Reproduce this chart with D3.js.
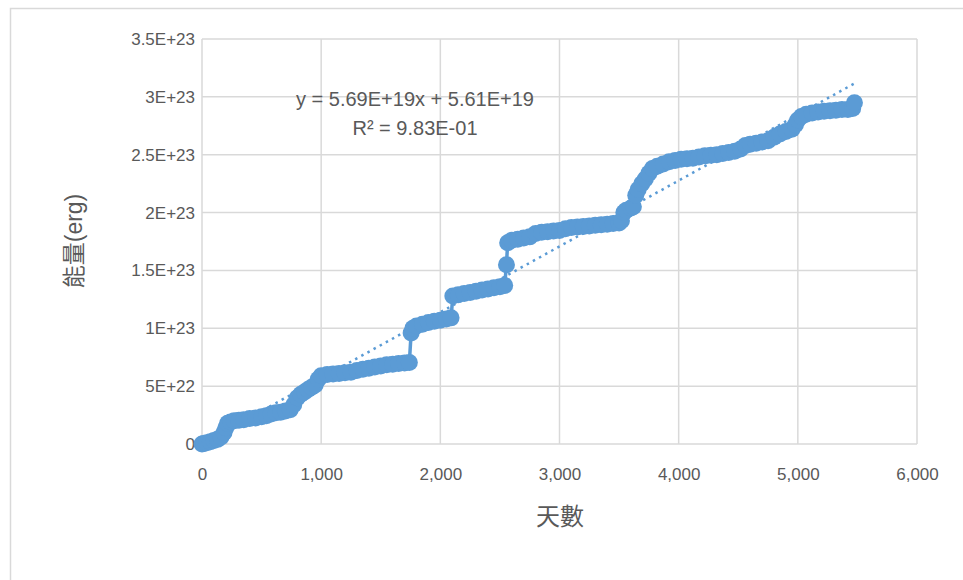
<!DOCTYPE html>
<html>
<head>
<meta charset="utf-8">
<script src="https://cdn.jsdelivr.net/npm/d3@7"></script>
<style>
  body { margin: 0; background: #fff; }
  text { font-family: "Liberation Sans", "Noto Sans CJK TC", sans-serif; fill: #595959; }
</style>
</head>
<body>
<div id="chart"></div>
<script>
// Days since start
var days = [0, 15, 40, 70, 100, 130, 160, 185, 200, 215, 240, 270, 310, 350, 400, 450, 500, 540, 580, 620,
  660, 700, 740, 770, 800, 830, 860, 890, 920, 950, 975, 1000, 1050, 1100, 1150, 1200, 1250, 1300, 1350, 1400,
  1450, 1500, 1550, 1600, 1650, 1700, 1740, 1755, 1770, 1800, 1850, 1900, 1950, 2000, 2050, 2090, 2105, 2150, 2200, 2250,
  2300, 2350, 2400, 2450, 2500, 2540, 2555, 2565, 2600, 2650, 2700, 2750, 2800, 2850, 2900, 2950, 3000, 3050, 3100, 3150,
  3200, 3250, 3300, 3350, 3400, 3450, 3500, 3520, 3540, 3560, 3600, 3620, 3640, 3660, 3690, 3720, 3750, 3780, 3820, 3870,
  3920, 3970, 4020, 4070, 4120, 4170, 4220, 4270, 4320, 4370, 4420, 4470, 4520, 4560, 4600, 4650, 4700, 4750, 4800, 4850,
  4900, 4950, 4980, 5000, 5030, 5070, 5120, 5170, 5220, 5270, 5320, 5370, 5420, 5460, 5475];

// Cumulative energy, in units of 1E+22 erg
var energyE22 = [0.0, 0.05, 0.1, 0.2, 0.3, 0.4, 0.6, 1.0, 1.4, 1.8, 1.9, 2.0, 2.05, 2.1, 2.2, 2.25, 2.35, 2.45, 2.6, 2.7,
  2.75, 2.85, 2.95, 3.4, 4.0, 4.3, 4.5, 4.7, 4.9, 5.1, 5.6, 5.9, 6.0, 6.05, 6.1, 6.15, 6.2, 6.35, 6.45, 6.55,
  6.65, 6.75, 6.85, 6.9, 6.95, 7.0, 7.05, 9.6, 10.0, 10.2, 10.35, 10.5, 10.6, 10.7, 10.8, 10.9, 12.8, 12.9, 13.0, 13.1,
  13.2, 13.3, 13.4, 13.5, 13.6, 13.7, 15.5, 17.4, 17.6, 17.7, 17.8, 17.9, 18.2, 18.3, 18.35, 18.4, 18.45, 18.6, 18.7, 18.75,
  18.8, 18.85, 18.9, 18.95, 19.0, 19.05, 19.1, 19.3, 20.0, 20.2, 20.4, 20.5, 21.5, 22.0, 22.5, 22.9, 23.4, 23.8, 24.0, 24.2,
  24.4, 24.5, 24.6, 24.65, 24.7, 24.8, 24.9, 24.95, 25.0, 25.1, 25.2, 25.3, 25.5, 25.8, 25.9, 26.0, 26.1, 26.2, 26.5, 26.8,
  27.0, 27.2, 27.6, 28.0, 28.3, 28.5, 28.6, 28.7, 28.75, 28.8, 28.85, 28.9, 28.9, 29.0, 29.5];

// Axis ticks
var xTicks = [0, 1000, 2000, 3000, 4000, 5000, 6000];
var yTicks = [0, 5, 10, 15, 20, 25, 30, 35];
var yTickLabels = ['0', '5E+22', '1E+23', '1.5E+23', '2E+23', '2.5E+23', '3E+23', '3.5E+23'];

// Linear trendline shown on the chart (erg per day, erg)
var trendSlope = 5.69e19;
var trendIntercept = 5.61e19;
var trendText = ['y = 5.69E+19x + 5.61E+19', 'R\u00b2 = 9.83E-01'];

var data = days.map(function(d, i) { return {day: d, e: energyE22[i]}; });

var W = 963, H = 580;
var plotLeft = 202, plotRight = 917, plotTop = 39, plotBottom = 444;
var blue = '#5b9bd5';

var svg = d3.select('#chart').append('svg')
  .attr('width', W)
  .attr('height', H);

// Chart area border
svg.append('rect')
  .attr('x', 10.5).attr('y', 8.5)
  .attr('width', 1000).attr('height', 700)
  .attr('fill', '#fff')
  .attr('stroke', '#d9d9d9')
  .attr('stroke-width', 1.5);

var x = d3.scaleLinear().domain([0, 6000]).range([plotLeft, plotRight]);
var y = d3.scaleLinear().domain([0, 35]).range([plotBottom, plotTop]);

// Gridlines
svg.append('g').selectAll('line')
  .data(xTicks).enter().append('line')
  .attr('x1', function(d) { return x(d); })
  .attr('x2', function(d) { return x(d); })
  .attr('y1', plotTop).attr('y2', plotBottom)
  .attr('stroke', '#d9d9d9').attr('stroke-width', 1.5);

svg.append('g').selectAll('line')
  .data(yTicks).enter().append('line')
  .attr('x1', plotLeft).attr('x2', plotRight)
  .attr('y1', function(d) { return y(d); })
  .attr('y2', function(d) { return y(d); })
  .attr('stroke', '#d9d9d9').attr('stroke-width', 1.5);

// Tick labels
var xAxis = d3.axisBottom(x).tickValues(xTicks).tickFormat(d3.format(',')).tickSize(0).tickPadding(24);
svg.append('g')
  .attr('transform', 'translate(0,' + plotBottom + ')')
  .call(xAxis)
  .call(function(g) { g.select('.domain').remove(); })
  .selectAll('text')
  .attr('font-size', 17)
  .attr('font-family', '"Liberation Sans", sans-serif')
  .attr('fill', '#595959');

var yAxis = d3.axisLeft(y).tickValues(yTicks)
  .tickFormat(function(d, i) { return yTickLabels[i]; })
  .tickSize(0).tickPadding(7);
svg.append('g')
  .attr('transform', 'translate(' + plotLeft + ',0)')
  .call(yAxis)
  .call(function(g) { g.select('.domain').remove(); })
  .selectAll('text')
  .attr('font-size', 17)
  .attr('font-family', '"Liberation Sans", sans-serif')
  .attr('fill', '#595959');

// Trendline
var xMax = d3.max(days);
svg.append('line')
  .attr('x1', x(0)).attr('y1', y(trendIntercept / 1e22))
  .attr('x2', x(xMax)).attr('y2', y((trendSlope * xMax + trendIntercept) / 1e22))
  .attr('stroke', blue)
  .attr('stroke-width', 2.5)
  .attr('stroke-dasharray', '2.5,4.5');

// Series line and markers
var line = d3.line()
  .x(function(d) { return x(d.day); })
  .y(function(d) { return y(d.e); });

svg.append('path')
  .datum(data)
  .attr('d', line)
  .attr('fill', 'none')
  .attr('stroke', blue)
  .attr('stroke-width', 3.5);

svg.append('g').selectAll('circle')
  .data(data).enter().append('circle')
  .attr('cx', function(d) { return x(d.day); })
  .attr('cy', function(d) { return y(d.e); })
  .attr('r', 8.5)
  .attr('fill', blue);

// Trendline label
svg.append('g').selectAll('text')
  .data(trendText).enter().append('text')
  .attr('x', 415)
  .attr('y', function(d, i) { return 106 + i * 29; })
  .attr('text-anchor', 'middle')
  .attr('font-size', 20)
  .text(function(d) { return d; });

// Axis titles
svg.append('text')
  .attr('x', 560).attr('y', 525)
  .attr('text-anchor', 'middle')
  .attr('font-size', 24)
  .text('天數');

svg.append('text')
  .attr('transform', 'translate(82,241) rotate(-90)')
  .attr('text-anchor', 'middle')
  .attr('font-size', 23)
  .text('能量(erg)');
</script>
</body>
</html>
